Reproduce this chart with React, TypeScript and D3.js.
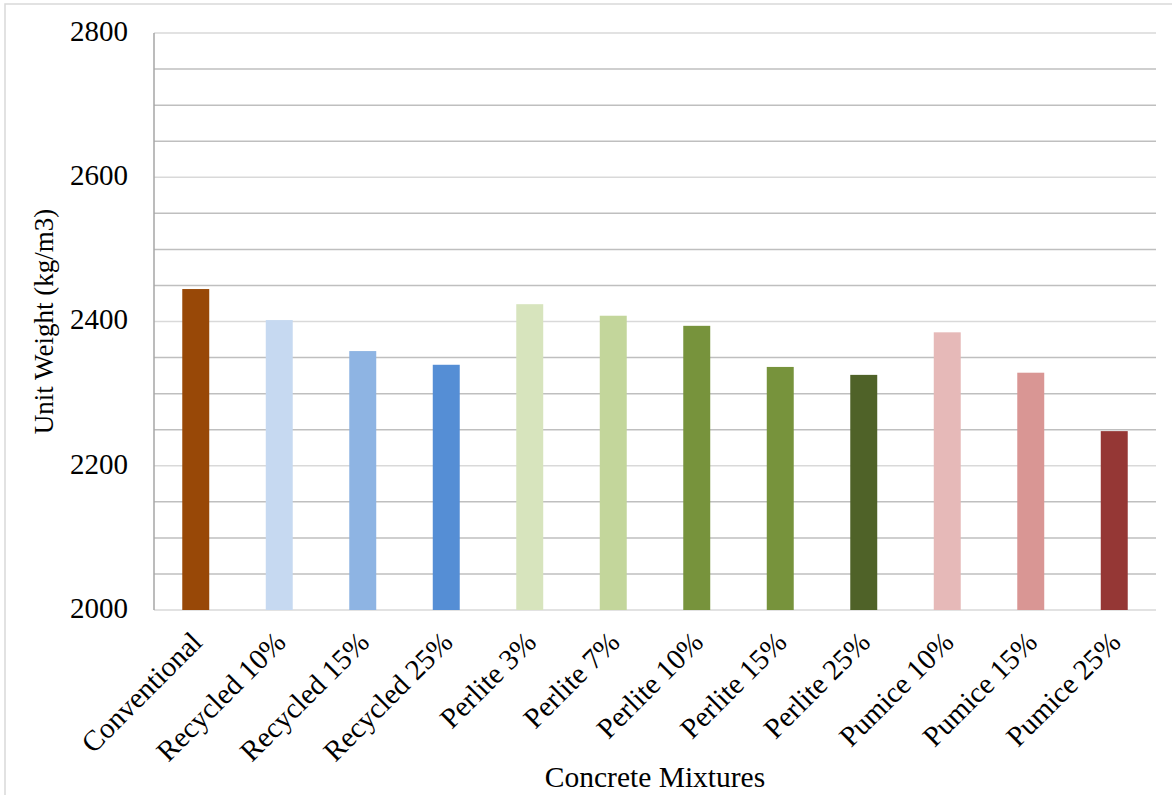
import React from "react";
import * as d3 from "d3";

const categories = [
  "Conventional",
  "Recycled 10%",
  "Recycled 15%",
  "Recycled 25%",
  "Perlite 3%",
  "Perlite 7%",
  "Perlite 10%",
  "Perlite 15%",
  "Perlite 25%",
  "Pumice 10%",
  "Pumice 15%",
  "Pumice 25%",
];

const unitWeights = [2445, 2402, 2359, 2340, 2424, 2408, 2394, 2337, 2326, 2385, 2329, 2248];

const barColors = [
  "#984807",
  "#c6d9f1",
  "#8eb4e3",
  "#558ed5",
  "#d7e4bd",
  "#c3d69b",
  "#77933c",
  "#77933c",
  "#4f6228",
  "#e6b9b8",
  "#d99694",
  "#953735",
];

const yTicks = [2000, 2200, 2400, 2600, 2800];
const yMinorTicks = [2050, 2100, 2150, 2250, 2300, 2350, 2450, 2500, 2550, 2650, 2700, 2750];

const W = 1172;
const H = 795;
const plot = { left: 154, right: 1156, top: 33, bottom: 610 };
const FONT = "'Liberation Serif', 'Times New Roman', serif";

export default function App() {
  const x = d3
    .scaleBand<string>()
    .domain(categories)
    .range([plot.left, plot.right])
    .paddingInner(0.677)
    .paddingOuter(0.3385);
  const y = d3.scaleLinear().domain([2000, 2800]).range([plot.bottom, plot.top]);

  return (
    <svg
      width={W}
      height={H}
      style={{ position: "absolute", left: 0, top: 0, background: "#fff" }}
    >
      <rect x={5} y={4} width={W + 20} height={H + 20} fill="#fff" stroke="#d9d9d9" strokeWidth={1.5} />

      {yMinorTicks.map((t) => (
        <line key={`mi${t}`} x1={plot.left} x2={plot.right} y1={y(t)} y2={y(t)} stroke="#bfbfbf" strokeWidth={1.5} />
      ))}
      {yTicks.map((t) => (
        <line key={`ma${t}`} x1={plot.left} x2={plot.right} y1={y(t)} y2={y(t)} stroke="#d9d9d9" strokeWidth={1.5} />
      ))}

      {categories.map((c, i) => (
        <rect
          key={c}
          x={x(c)}
          y={y(unitWeights[i])}
          width={x.bandwidth()}
          height={y(2000) - y(unitWeights[i])}
          fill={barColors[i]}
        />
      ))}

      <line x1={plot.left} x2={plot.left} y1={plot.top} y2={plot.bottom} stroke="#a6a6a6" strokeWidth={1.5} />

      {yTicks.map((t) => (
        <text key={`yl${t}`} x={128} y={y(t) - 2} dy="0.34em" textAnchor="end" fontFamily={FONT} fontSize={29} fill="#000">
          {t}
        </text>
      ))}

      {categories.map((c) => {
        const cx = (x(c) as number) + x.bandwidth() / 2 + 8;
        const cy = 644;
        return (
          <text
            key={`xl${c}`}
            transform={`translate(${cx},${cy}) rotate(-45)`}
            textAnchor="end"
            fontFamily={FONT}
            fontSize={29}
            fill="#000"
          >
            {c}
          </text>
        );
      })}

      <text
        transform={`translate(53,${(plot.top + plot.bottom) / 2}) rotate(-90)`}
        textAnchor="middle"
        fontFamily={FONT}
        fontSize={27}
        fill="#000"
      >
        Unit Weight (kg/m3)
      </text>
      <text x={655} y={787} textAnchor="middle" fontFamily={FONT} fontSize={29.5} fill="#000">
        Concrete Mixtures
      </text>
    </svg>
  );
}
